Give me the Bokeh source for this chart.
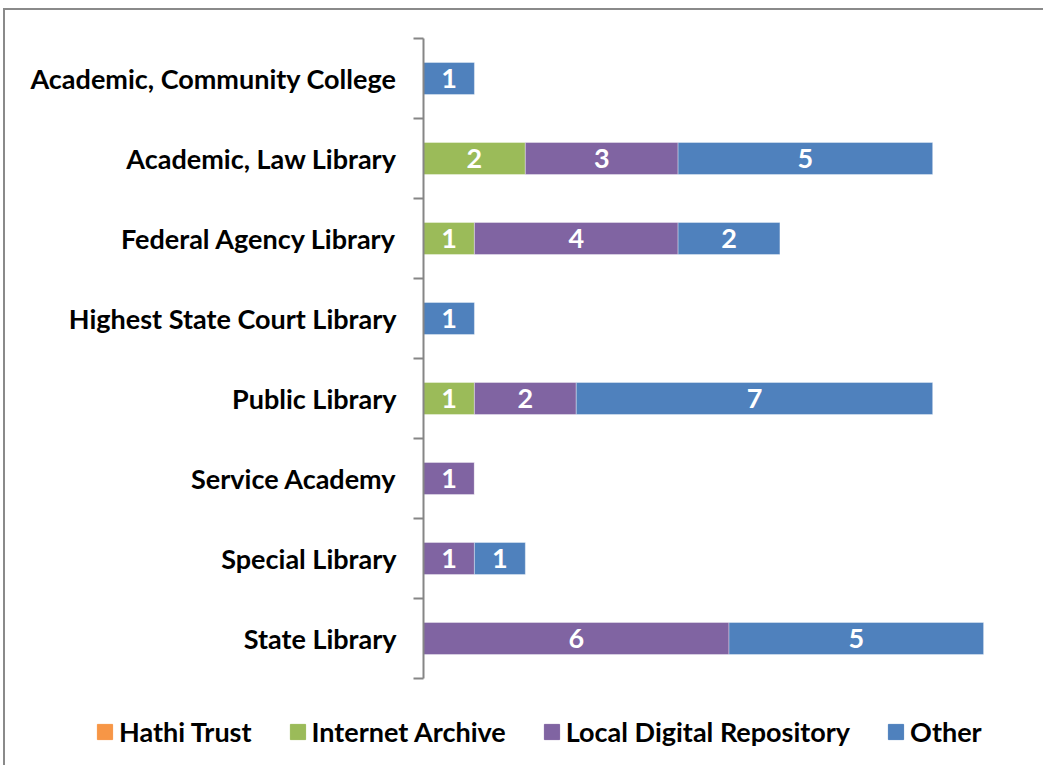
from bokeh.plotting import figure
from bokeh.models import ColumnDataSource, FixedTicker, Legend, LegendItem, Range1d
from bokeh.core.properties import value
from bokeh.embed import file_html
from bokeh.resources import INLINE

categories = ["Academic, Community College", "Academic, Law Library", "Federal Agency Library",
              "Highest State Court Library", "Public Library", "Service Academy",
              "Special Library", "State Library"]
series = ["Hathi Trust", "Internet Archive", "Local Digital Repository", "Other"]
hathi_trust = [0, 0, 0, 0, 0, 0, 0, 0]
internet_archive = [0, 2, 1, 0, 1, 0, 0, 0]
local_digital_repository = [0, 3, 4, 0, 2, 1, 1, 6]
other = [1, 5, 2, 1, 7, 0, 1, 5]
colors = ["#F79646", "#9BBB59", "#8064A2", "#4F81BD"]

FONT = "Lato"
FS = "27px"
n = len(categories)
ypos = [n - 0.5 - i for i in range(n)]

data = {"y": ypos, "Hathi Trust": hathi_trust, "Internet Archive": internet_archive,
        "Local Digital Repository": local_digital_repository, "Other": other}
source = ColumnDataSource(data)

p = figure(width=1040, height=680, output_backend="svg", toolbar_location=None,
           x_range=Range1d(0, 12), y_range=Range1d(0, n),
           min_border_left=418, min_border_right=11, min_border_top=28, min_border_bottom=12)
p.outline_line_color = None
p.grid.visible = False
p.xaxis.visible = False
p.styles = {"margin-left": "3px", "margin-top": "8px",
            "border-left": "2px solid #8a8a8a", "border-top": "2px solid #8a8a8a"}

renderers = p.hbar_stack(series, y="y", height=0.4, color=colors, source=source,
                         line_color="white", line_alpha=0.35, line_width=1)

yax = p.yaxis[0]
yax.ticker = FixedTicker(ticks=ypos, minor_ticks=list(range(0, n + 1)))
yax.major_label_overrides = {y: c for y, c in zip(ypos, categories)}
yax.major_tick_out = 0
yax.major_tick_in = 0
yax.minor_tick_out = 10
yax.minor_tick_in = 0
yax.minor_tick_line_color = "#868686"
yax.minor_tick_line_width = 2
yax.axis_line_color = "#868686"
yax.axis_line_width = 2
yax.major_label_standoff = 17
yax.major_label_text_font = FONT
yax.major_label_text_font_style = "bold"
yax.major_label_text_font_size = FS
yax.major_label_text_color = "black"

# data labels
lx, ly, lt = [], [], []
cols = [hathi_trust, internet_archive, local_digital_repository, other]
for i in range(n):
    left = 0
    for vals in cols:
        v = vals[i]
        if v > 0:
            lx.append(left + v / 2)
            ly.append(ypos[i])
            lt.append(str(v))
        left += v
p.text(x=lx, y=ly, text=lt, text_align="center", text_baseline="middle",
       text_color="white", text_font=value(FONT), text_font_style="bold",
       text_font_size=FS)

# legend strip (separate root so its frame spans the full width)
lp = figure(width=1040, height=77, output_backend="svg", toolbar_location=None,
            x_range=Range1d(0, 12), y_range=Range1d(100, 101),
            min_border_left=0, min_border_right=0, min_border_top=0, min_border_bottom=0)
lp.axis.visible = False
lp.grid.visible = False
lp.outline_line_color = None
lp.styles = {"margin-left": "3px", "border-left": "2px solid #8a8a8a"}
leg_r = lp.hbar_stack(series, y="y", height=0.4, color=colors, source=source)
legend = Legend(items=[LegendItem(label=s, renderers=[r]) for s, r in zip(series, leg_r)],
                orientation="horizontal", location=(90, 17))
legend.label_text_font = FONT
legend.label_text_font_style = "bold"
legend.label_text_font_size = FS
legend.label_text_color = "black"
legend.glyph_width = 19
legend.glyph_height = 19
legend.label_standoff = 5
legend.spacing = 36
legend.padding = 0
legend.margin = 0
legend.border_line_color = None
legend.background_fill_alpha = 0
lp.add_layout(legend)

open("out.html", "w").write(file_html([p, lp], INLINE))
